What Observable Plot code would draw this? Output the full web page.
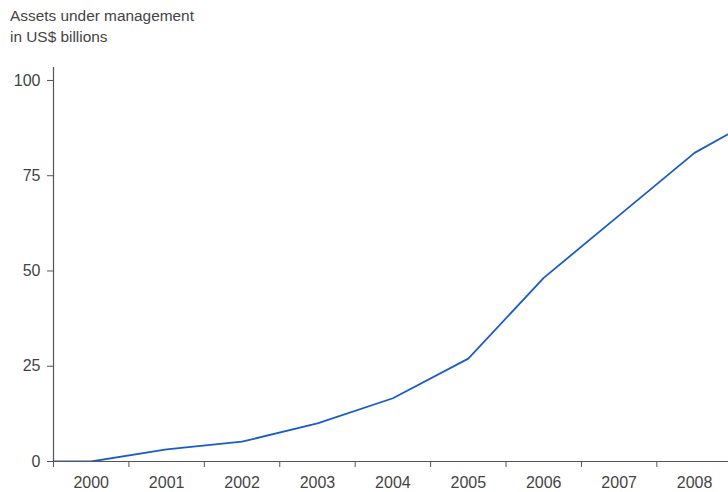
<!DOCTYPE html>
<html>
<head>
<meta charset="utf-8">
<script src="https://cdn.jsdelivr.net/npm/d3@7"></script>
<script src="https://cdn.jsdelivr.net/npm/@observablehq/plot@0.6"></script>
<style>
  html, body { margin: 0; padding: 0; background: #fff; }
  #wrap { position: relative; width: 728px; height: 492px; overflow: hidden; font-family: "Liberation Sans", Arial, sans-serif; color: #444; }
  #title { position: absolute; left: 10px; top: 5px; font-size: 15.4px; line-height: 21px; color: #444; }
  #chart { position: absolute; left: 0; top: 0; }
</style>
</head>
<body>
<div id="wrap">
  <div id="chart"></div>
  <div id="title">Assets under management<br>in US$ billions</div>
</div>
<script>
// Data (x = year position; series starts at the left edge of 2000)
const xPositions = [1999.5, 2000, 2001, 2002, 2003, 2004, 2005, 2006, 2007, 2008, 2009];
const assets     = [0,      0,    3.2,  5.2,  10,   16.6, 27,   48.2, 64.6, 81,   92];
const yearLabels = [2000, 2001, 2002, 2003, 2004, 2005, 2006, 2007, 2008];
const yearBoundaries = [1999.5, 2000.5, 2001.5, 2002.5, 2003.5, 2004.5, 2005.5, 2006.5, 2007.5];
const yTicks = [0, 25, 50, 75, 100];

const data = xPositions.map((x, i) => ({x, v: assets[i]}));

const chart = Plot.plot({
  width: 728,
  height: 492,
  marginLeft: 53,
  marginRight: 0,
  marginTop: 67,
  marginBottom: 31,
  style: { fontFamily: "Liberation Sans, Arial, sans-serif", fontSize: "16px", color: "#444", background: "transparent" },
  x: { type: "linear", domain: [1999.5, 2008.45], label: null },
  y: { domain: [0, 103.4], label: null },
  marks: [
    Plot.axisY(yTicks, { tickSize: 6, tickPadding: 7, stroke: "#555", fill: "#444", fontSize: 16, label: null }),
    Plot.axisX(yearBoundaries, { tickSize: 6, tickFormat: () => "", stroke: "#555", label: null }),
    Plot.axisX(yearLabels, { tickSize: 0, tickPadding: 15, tickFormat: d => String(d), fill: "#444", fontSize: 16, label: null }),
    Plot.ruleX([1999.5], { y1: 0, y2: 103.4, stroke: "#555", strokeWidth: 1.2 }),
    Plot.ruleY([0], { stroke: "#555", strokeWidth: 1.2 }),
    Plot.line(data, { x: "x", y: "v", stroke: "#1a5cc4", strokeWidth: 1.8, clip: true })
  ]
});
document.getElementById("chart").appendChild(chart);
</script>
</body>
</html>
